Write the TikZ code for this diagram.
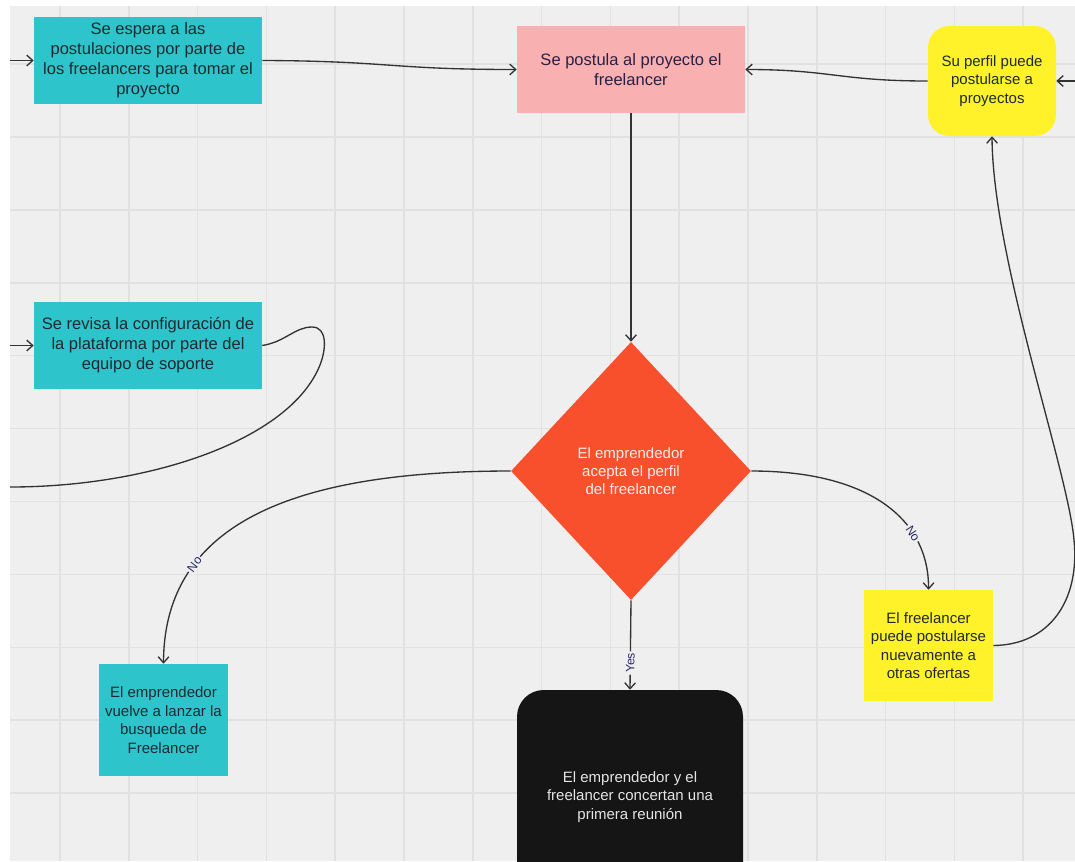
\documentclass[tikz,border=0pt]{standalone}
\usepackage{fontspec}
\setmainfont{Liberation Sans}
\usetikzlibrary{arrows.meta,shapes.geometric}
\definecolor{bg}{HTML}{EFEFEF}
\definecolor{gridc}{HTML}{E1E1E1}
\definecolor{cyanc}{HTML}{2EC4CB}
\definecolor{pinkc}{HTML}{F9B0B0}
\definecolor{yellowc}{HTML}{FFF22B}
\definecolor{orangec}{HTML}{F84F2D}
\definecolor{blackc}{HTML}{151515}
\definecolor{darktext}{HTML}{1E2A30}
\definecolor{navytext}{HTML}{2A2046}
\definecolor{labelc}{HTML}{2B2A66}
\definecolor{linec}{HTML}{333333}
\tikzset{
  gridline/.style={draw=gridc, line width=1.1pt},
  basebox/.style={rectangle, inner sep=0pt, align=center},
  bigfont/.style={font=\fontsize{12.4}{15}\selectfont},
  smallfont/.style={font=\fontsize{11.25}{13.9}\selectfont},
  cyanbox/.style={basebox, bigfont, fill=cyanc, text=darktext},
  pinkbox/.style={basebox, bigfont, fill=pinkc, text=navytext},
  yellowbox/.style={basebox, smallfont, fill=yellowc, text=darktext},
  decision/.style={diamond, inner sep=0pt, align=center, fill=orangec, text=white!90!orangec, font=\fontsize{11.25}{13.5}\selectfont},
  endbox/.style={basebox, smallfont, fill=blackc, text=white!90!black, rounded corners=20pt},
  conn/.style={draw=linec, line width=1pt, -{Straight Barb[length=4.5pt,width=8pt]}},
  lbl/.style={font=\fontsize{9.2}{10}\selectfont, text=labelc, fill=bg, inner sep=1.2pt, sloped}
}
\begin{document}
\begin{tikzpicture}[x=0.75pt,y=-0.75pt]
\useasboundingbox (0,0) rectangle (1075,861);
\clip (0,0) rectangle (1075,861);
\fill[white] (0,0) rectangle (1075,861);
\fill[bg] (10,6) rectangle (1075,861);
\foreach \i in {0,...,14} \draw[gridline] ({60+68.8*\i},6) -- ({60+68.8*\i},861);
\foreach \j in {-1,...,9} \draw[gridline] (10,{137+72.9*\j}) -- (1075,{137+72.9*\j});

% nodes
\node[cyanbox, minimum width=171pt, minimum height=65.25pt] (b1) at (148,60.5)
  {Se espera a las\\postulaciones por parte de\\los freelancers para tomar el\\proyecto};
\node[pinkbox, minimum width=171pt, minimum height=65.25pt] (pk) at (631,69.5)
  {Se postula al proyecto el\\freelancer};
\node[yellowbox, rounded corners=16pt, minimum width=96pt, minimum height=82.5pt] (y3) at (992,81)
  {Su perfil puede\\postularse a\\proyectos};
\node[cyanbox, minimum width=171pt, minimum height=65.25pt] (b2) at (148,345.5)
  {Se revisa la configuración de\\la plataforma por parte del\\equipo de soporte};
\node[decision, minimum width=180pt, minimum height=193.5pt] (dia) at (631,471)
  {El emprendedor\\acepta el perfil\\del freelancer};
\node[cyanbox, smallfont, minimum width=96.75pt, minimum height=84pt] (b3) at (163.5,720)
  {El emprendedor\\vuelve a lanzar la\\busqueda de\\Freelancer};
\node[yellowbox, minimum width=96.75pt, minimum height=83.25pt] (y4) at (928.5,645.5)
  {El freelancer\\puede postularse\\nuevamente a\\otras ofertas};
\node[endbox, minimum width=169.5pt, minimum height=160.5pt] (fin) at (630,797)
  {El emprendedor y el\\freelancer concertan una\\primera reunión};

% free ends
\coordinate (in1) at (10,60.5);
\coordinate (in2) at (10,345.5);
\coordinate (in3) at (1075,81);
\coordinate (out2) at (10,487);

% connectors
\draw[conn] (in1) -- (b1.west);
\draw[conn] (b1.east) .. controls (390,61) and (390,69.5) .. (pk.west);
\draw[conn] (in2) -- (b2.west);
\draw[conn] (pk.south) -- (dia.north);
\draw[conn] (y3.west) .. controls (840,81) and (830,69.5) .. (pk.east);
\draw[conn] (in3) -- (y3.east);
\draw[draw=linec, line width=1pt] (b2.east) .. controls (285,342) and (295,327) .. (312,327)
  .. controls (328,327) and (326,350) .. (320,365)
  .. controls (290,440) and (150,487) .. (out2);
\draw[conn] (dia.west) .. controls (300,471) and (164,520) .. node[lbl, pos=0.72] {No} (b3.north);
\draw[conn] (dia.east) .. controls (870,471) and (929,520) .. node[lbl, pos=0.7] {No} (y4.north);
\draw[conn] (dia.south) -- node[lbl, pos=0.7] {Yes} (fin.north);
\draw[conn] (y4.east) .. controls (1050,645) and (1080,600) .. (1074,540)
  .. controls (1068,470) and (993,260) .. (y3.south);
\end{tikzpicture}
\end{document}
